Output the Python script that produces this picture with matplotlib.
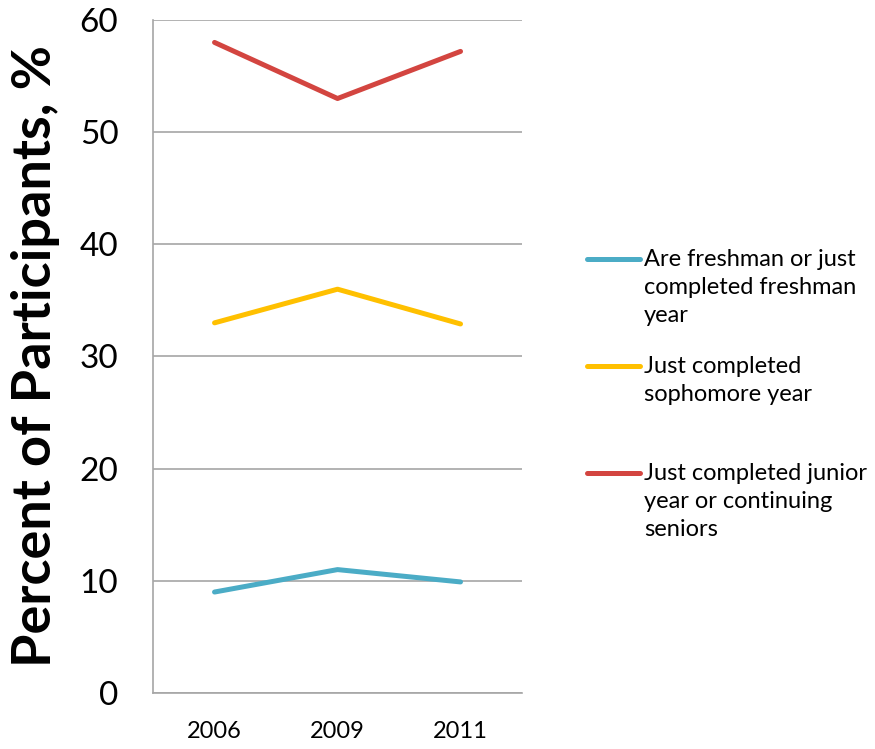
import numpy as np
import matplotlib
matplotlib.use("Agg")
import matplotlib.pyplot as plt
from matplotlib.lines import Line2D

# data
years = ["2006", "2009", "2011"]
freshman = [9, 11, 9.9]
sophomore = [33, 36, 32.9]
junior_senior = [58, 53, 57.2]

series_labels = [
    "Are freshman or just\ncompleted freshman\nyear",
    "Just completed\nsophomore year",
    "Just completed junior\nyear or continuing\nseniors",
]
series_colors = ["#4BACC6", "#FFC000", "#D34540"]
y_ticks = [0, 10, 20, 30, 40, 50, 60]

plt.rcParams['font.family'] = ['Lato', 'DejaVu Sans']

fig = plt.figure(figsize=(8.75, 7.49), dpi=100)
ax = fig.add_axes([0.1749, 0.0748, 0.4217, 0.8985])

x = np.arange(len(years))
for vals, color in zip([freshman, sophomore, junior_senior], series_colors):
    ax.plot(x, vals, color=color, linewidth=3.6, solid_capstyle='round', zorder=3)

ax.set_xlim(-0.5, len(years) - 0.5)
ax.set_ylim(0, 60)
ax.set_yticks(y_ticks)
ax.set_yticklabels([str(t) for t in y_ticks], fontsize=24)
ax.set_xticks(x)
ax.set_xticklabels(years, fontsize=17)
ax.tick_params(axis='y', length=0, pad=25)
ax.tick_params(axis='x', length=0, pad=20)

ax.yaxis.grid(True, color='#A6A6A6', linewidth=1.2, zorder=0)
ax.set_axisbelow(True)
for side in ['top', 'right']:
    ax.spines[side].set_visible(False)
for side in ['left', 'bottom']:
    ax.spines[side].set_color('#A6A6A6')
    ax.spines[side].set_linewidth(1.2)

ax.set_ylabel("Percent of Participants, %", fontsize=39, fontweight='bold', labelpad=14)

# legend drawn by hand so the handle sits at the first text line
leg_top = 1 - 259 / 749
pitch = 107 / 749
for i, (lab, color) in enumerate(zip(series_labels, series_colors)):
    yy = leg_top - i * pitch
    fig.add_artist(Line2D([587 / 875, 640 / 875], [yy, yy], color=color,
                          linewidth=3.6, solid_capstyle='round', transform=fig.transFigure))
    fig.text(644 / 875, yy + 10 / 749, lab, fontsize=17, va='top', ha='left',
             linespacing=1.4)

fig.savefig("out.png", dpi=100)
